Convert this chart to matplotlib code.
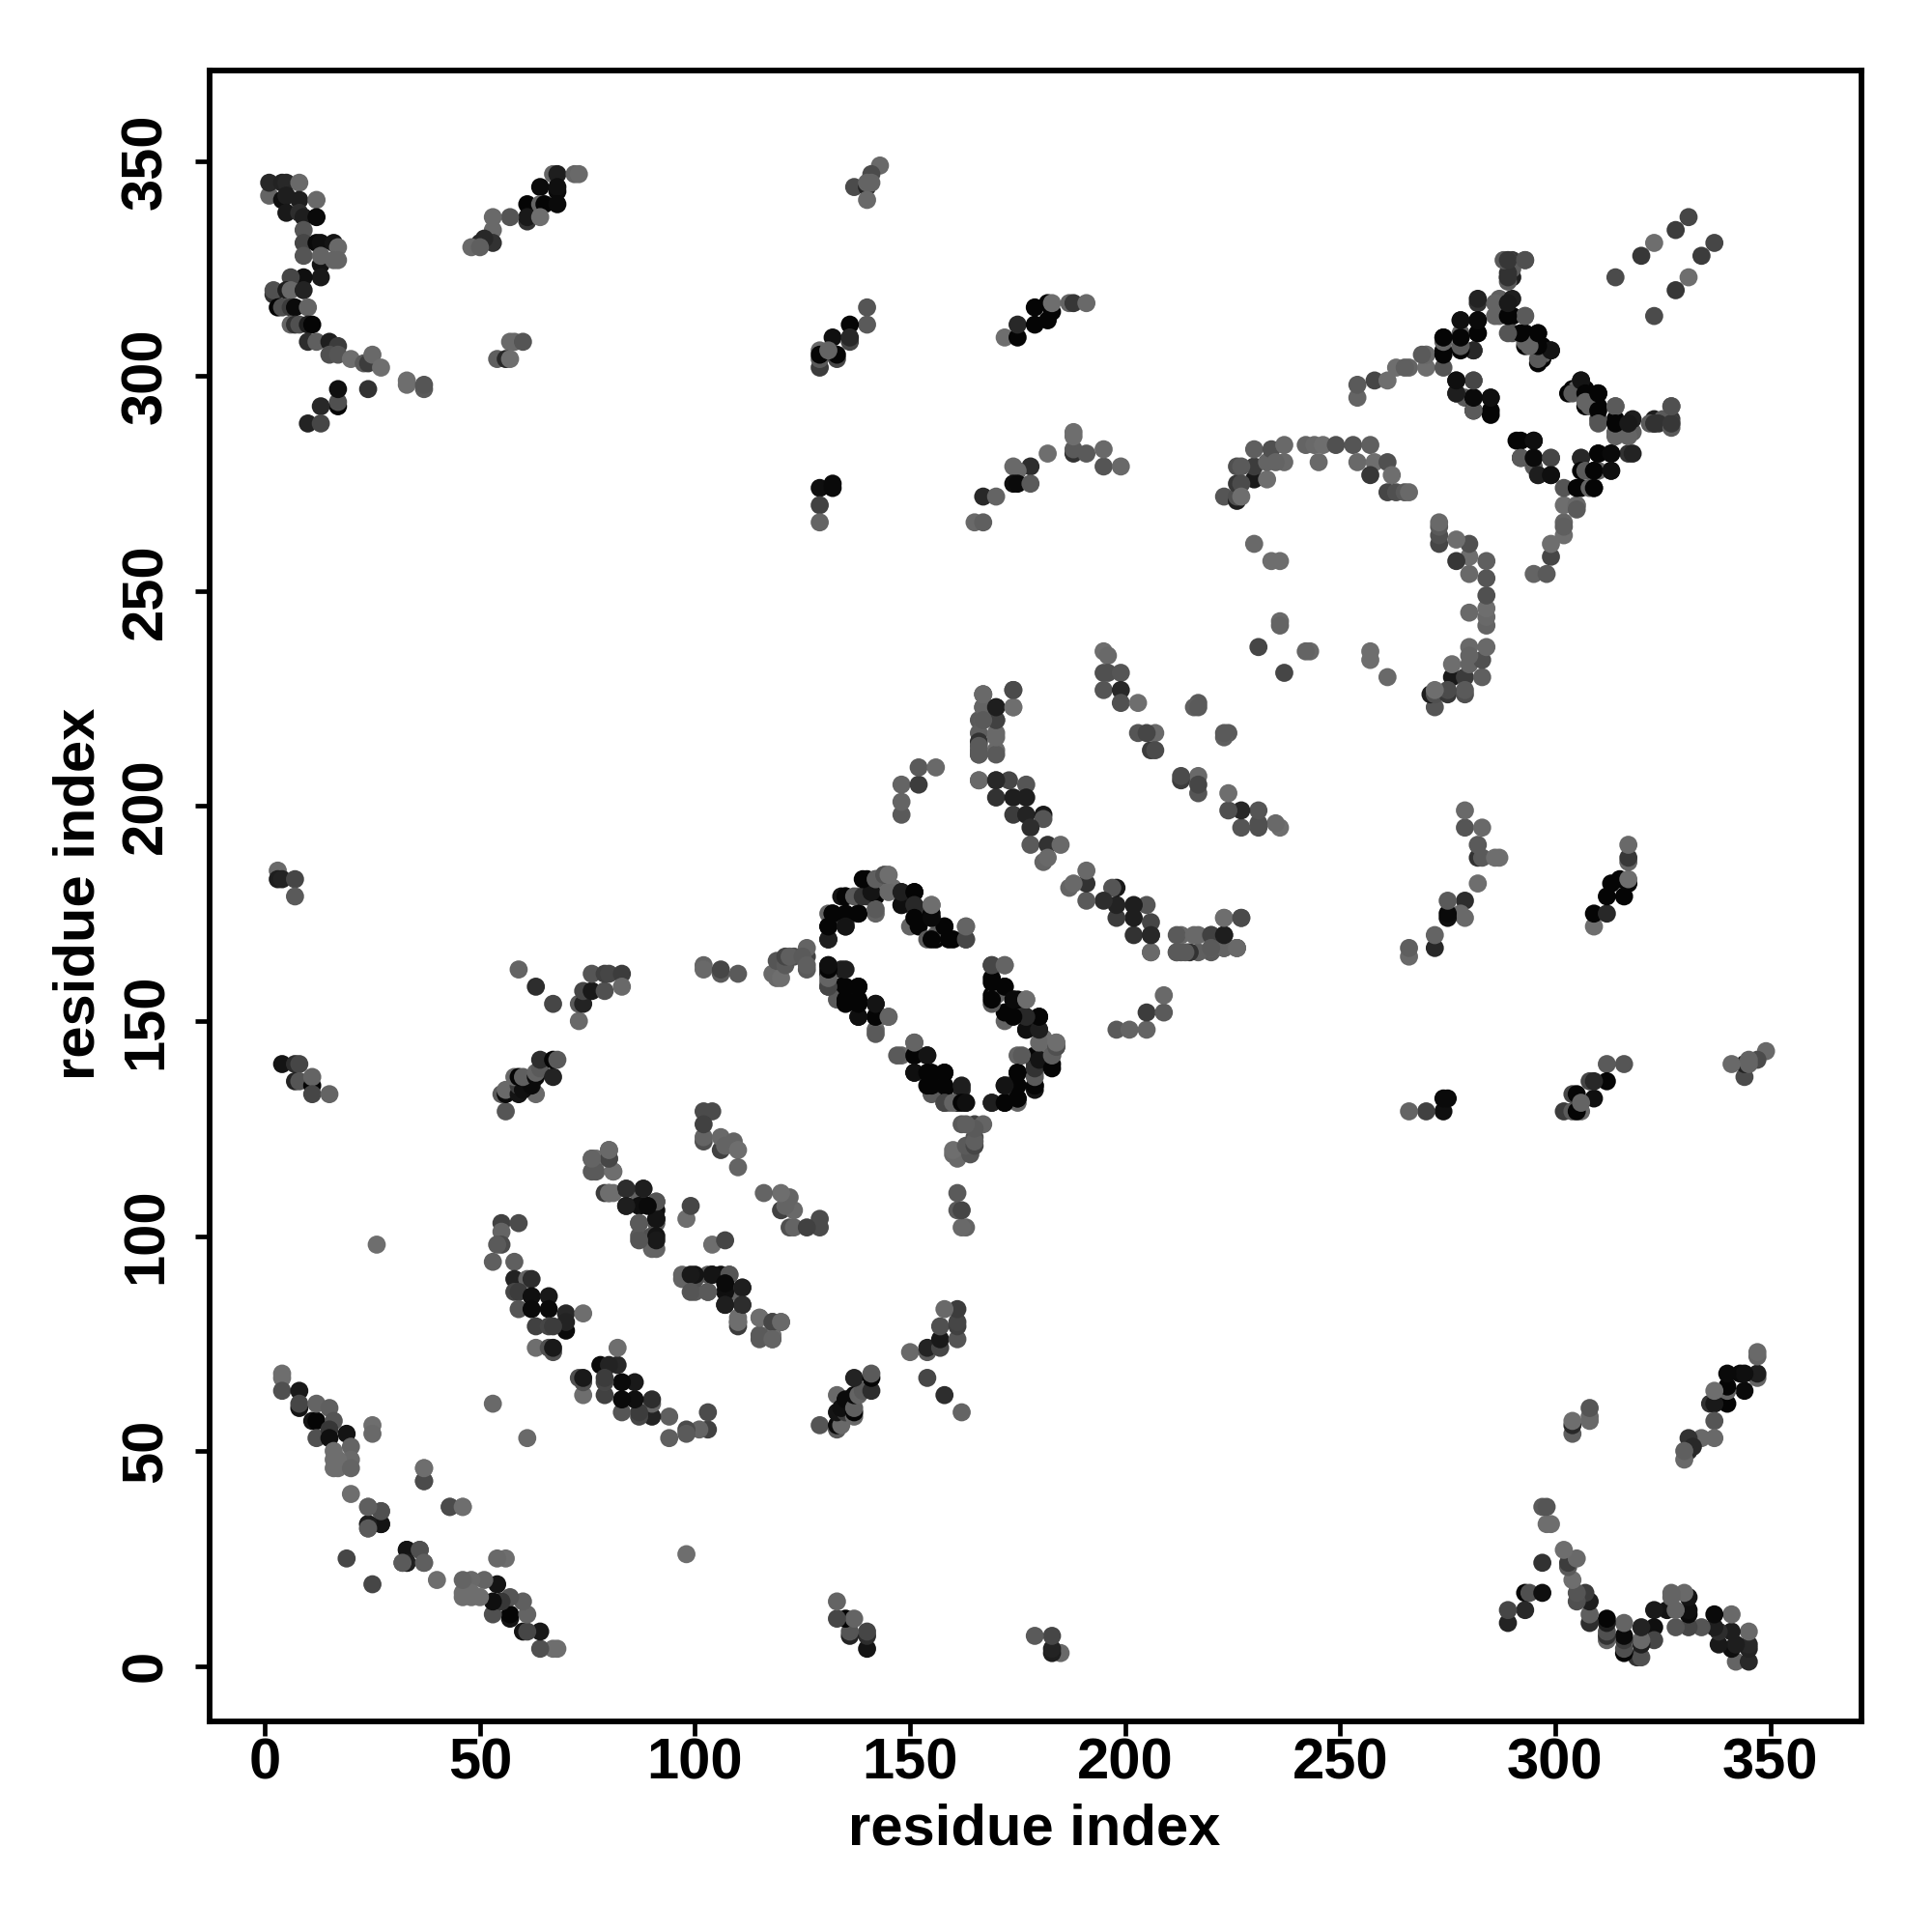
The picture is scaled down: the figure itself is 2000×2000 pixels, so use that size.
import matplotlib
matplotlib.use("Agg")
import matplotlib.pyplot as plt

# (residue i, residue j, grey level 0-255); the map is symmetric, i < j listed
low_hairpin = [(4,68,110),(4,67,110),(4,64,80),(8,64,25),(8,60,20),(8,61,70),(11,57,20),(12,57,5),(12,61,100),
               (15,60,95),(12,53,80),(16,57,85),(15,55,55),(15,53,15),(19,54,20),(16,50,110),(20,51,100),
               (20,48,105),(16,48,110),(17,48,110),(16,46,110),(17,46,110),(20,46,100)]
low_scatter = [(25,56,110),(25,54,105),(20,40,110),(37,46,105),(37,43,70),(24,37,90),(27,36,85),(24,32,80),(24,33,30),
               (27,33,25),(19,25,70),(33,27,20),(27,36,80),(24,33,30),(24,32,90),(24,37,95),(26,98,110),(53,61,105),
               (43,37,75),(37,46,110)]
sheet_b = [(55,103,65),(59,103,75),(55,101,100),(55,98,75),(54,98,90),(53,94,95),(58,94,95),(58,90,35),(61,90,100),(62,90,45),
           (58,87,70),(59,87,60),(62,86,15),(66,86,25),(59,83,85),(62,83,10),(66,83,10),(70,82,40),(74,82,110),
           (70,78,10),(70,80,35),(63,79,65),(66,79,70),(67,79,60),(63,74,110),(67,73,80),(66,74,80),(67,74,25)]
sheet_c = [(80,118,70),(76,118,100),(77,118,110),(77,115,90),(81,115,110),(80,120,105),(80,110,60),(81,110,110),(84,111,60),
           (88,111,40),(87,109,100),(84,107,40),(87,107,15),(91,106,15),(91,108,80),(91,103,90),(91,104,25),(87,103,85),
           (87,100,90),(90,100,80),(90,98,100),(91,97,100),(91,100,20)]
pair_d = [(98,104,110),(99,107,70)]
sheet_e = [(102,129,75),(104,129,75),(102,122,80),(102,123,100),(102,126,65),(106,120,65),(106,123,105),(107,121,100),(109,122,100),
           (109,121,100),(110,120,110),(110,116,100)]
sheet_f = [(90,97,100),(91,99,25),(87,99,85),(87,103,90),(91,104,20),(91,108,85),(89,107,10),(88,111,30),(84,111,45),(84,107,30),
           (79,110,60),(80,110,110),(81,115,110),(76,115,90),(80,118,70),(80,120,105),(76,118,100)]
group_g = [(56,129,85),(55,133,90),(56,133,10),(56,134,105),(59,133,20),(63,133,105),(59,135,60),(60,134,15),(62,135,10),
           (58,137,105),(59,137,5),(60,137,95),(63,137,10),(63,138,100),(64,139,90),(67,137,35),(64,141,45),(67,141,5),(68,141,90)]
group_h = [(59,162,100),(63,158,45),(67,154,70),(73,150,105),(73,154,90),(74,154,35),(74,157,70),(76,157,25),(76,161,85),
           (79,157,80),(79,161,65),(80,161,70),(83,161,60),(83,158,105)]
turn_j = [(102,163,100),(102,162,105),(106,161,90),(106,162,70),(110,161,90),(118,161,105),(119,160,105),(120,160,110),(119,164,85),
          (121,163,90),(121,165,70),(123,165,80),(126,162,90),(126,165,65),(126,167,100),(122,165,95),(125,165,90),(126,163,95)]
box_lower = [(131,163,20),(134,162,35),(131,161,15),(131,158,65),(131,159,100),(134,158,5),(138,158,5),(133,155,90),(135,155,5),(138,155,5),
             (138,151,5),(142,154,20),(142,148,100),(142,151,15),(143,151,110),(145,151,110)]
box_upper = [(131,169,40),(131,172,5),(131,175,100),(132,175,5),(135,172,25),(135,173,50),(135,175,5),(134,179,20),(135,179,5),(138,179,100),
             (138,175,5),(142,175,100),(140,183,5),(140,179,50),(142,179,5),(142,183,30),(144,184,100),(144,181,110),(145,184,110),(146,181,110)]
box_right = [(148,180,40),(151,180,5),(148,177,25),(152,176,50),(150,172,100),(152,172,5),(155,174,5),(155,177,110),(158,172,5),
             (154,169,90),(156,169,5),(156,170,95),(160,169,5),(163,172,100),(163,169,60)]
box_bottom = [(142,147,90),(142,151,5),(142,154,20),(145,151,100),(138,151,15),(138,154,5),(138,158,5),(135,154,5),(135,158,5),(135,162,30),
              (131,158,70),(131,160,100),(131,162,5),(131,163,15)]
box_side = [(131,169,30),(131,172,5),(135,172,20),(132,175,5),(138,175,5),(135,179,5),(137,179,90),(139,179,50),(142,176,90),(141,180,20),
            (139,183,5),(142,183,95),(145,180,105),(144,184,80),(145,184,110),(148,177,15),(148,180,30),(151,180,5),(151,177,40),(151,174,5),(158,172,5),
            (155,169,5),(159,169,5),(163,169,70),(163,172,100),(155,175,5),(155,174,10),(155,177,110)]
group_k = [(148,198,90),(148,201,100),(148,205,100),(152,205,60),(152,209,90),(156,209,105)]
group_m = [(167,226,105),(174,227,70),(174,223,110),(167,223,55),(170,223,30),(170,220,60),(166,220,90),(167,220,100),(166,217,95),
           (170,217,105),(166,215,50),(166,213,90),(166,212,80),(170,213,105),(166,206,105)]
sheet_n = [(170,206,50),(173,206,70),(177,205,85),(170,202,50),(174,202,30),(177,202,30),(174,198,60),(177,198,35),(181,198,25),(181,197,85),
           (178,195,45),(178,191,90),(182,191,50),(185,191,105),(181,187,100),(182,188,105)]
sheet_p = [(166,206,105),(167,223,100),(167,226,105),(170,206,40),(170,212,90),(166,212,90),(170,216,105),(170,220,65),(170,223,30),(174,223,110),(174,227,75),
           (167,226,105),(166,214,90),(167,220,90)]
group_q = [(195,236,110),(196,235,105),(196,231,80),(195,231,80),(199,231,85),(195,227,85),(199,227,40),(199,224,80),(203,224,110),
           (203,217,85),(207,217,105),(205,217,70),(206,213,60),(207,213,75),(217,224,90),(216,223,95),(217,223,90)]
group_r = [(231,237,70),(236,243,105),(236,242,100),(230,261,105),(234,257,110),(236,257,110)]
arc_top = [(223,272,85),(226,271,30),(226,272,80),(226,275,55),(226,279,80),(230,276,25),(230,279,60),(227,279,90),(227,275,75),(233,276,110),(227,272,110),
           (230,283,95),(233,280,100),(234,283,80),(237,284,105),(237,280,105),(235,280,100),(242,284,100),(244,284,105),(245,280,105),
           (246,284,110),(249,284,80),(253,284,85),(257,284,95),(254,280,105),(258,280,110),(257,277,55),(261,280,80),(262,277,110),
           (261,273,70),(263,273,80),(265,273,90),(266,273,105),(254,295,100),(254,298,90),(258,299,70),(261,299,110),(263,302,110),(266,302,100),(270,302,110),(270,305,105)]
box2_left = [(290,327,55),(289,327,100),(293,327,80),(289,323,20),(290,323,30),(290,325,90),(282,317,50),(278,313,35),(282,313,5),(282,310,10),(274,309,5),(278,309,5),
             (278,310,100),(274,306,5),(281,306,50),(274,302,85),(270,305,105),(269,305,90),(265,302,95)]
box2_mid = [(277,299,25),(281,299,70),(277,296,50),(279,295,90),(281,295,5),(285,295,10),(281,292,5),(285,292,5)]
box2_upper = [(287,318,95),(290,318,30),(287,314,100),(290,314,5),(293,314,90),(290,310,80),(293,310,5),(296,310,5),(293,307,5),(293,308,100),(297,307,5),
              (299,306,25),(297,304,5),(297,305,100)]
box2_right = [(303,296,5),(304,296,90),(306,299,20),(307,296,5),(307,294,100),(310,296,5),(310,292,5),(314,293,90),(310,289,85),(314,286,100),(317,286,100),(314,289,5),(317,289,25),
              (322,289,90),(323,289,50),(324,289,50),(327,288,90),(327,289,55),(327,293,80)]
box2_extra = [(281,306,40),(282,310,5),(282,313,10),(282,318,35),(278,306,5),(278,307,90),(278,309,5),(278,313,15),(274,305,5),(274,308,100),(274,309,5),
              (285,291,5),(285,295,15),(281,292,90),(281,295,10),(281,299,70),(277,296,30),(277,299,15)]
strand_s = [(331,337,70),(328,334,60),(323,331,110),(320,328,55),(314,323,75)]
top_u = [(143,349,105),(141,347,75),(137,344,75),(140,344,35),(140,345,100),(141,345,100),(140,341,105)]
top_v = [(140,316,85),(140,312,90),(136,312,5),(132,309,15),(136,308,70),(136,309,40),(129,306,105),(129,302,60),(129,304,90),(129,305,5),(133,304,70),(133,305,5),(131,306,100)]
top_w = [(172,309,110),(175,309,5),(175,312,40),(179,316,5),(179,312,5),(182,313,5),(182,317,5),(183,315,5),(183,317,110),(187,317,100),(188,317,55),(191,317,105)]
top_x = [(129,274,15),(132,275,10),(132,274,10),(129,270,65),(129,266,100)]
top_y = [(165,266,105),(167,266,95),(167,272,40),(170,272,100),(178,279,45),(174,279,105),(175,278,105),(174,275,15),(175,275,10),(178,275,90),(182,282,110),
         (188,282,50),(188,283,90),(188,286,110),(188,287,110),(191,282,90),(195,279,85),(195,283,105),(199,279,105)]
far_z1 = [(1,342,100),(1,345,40),(4,345,35),(5,345,40),(8,345,105),(4,341,15),(5,342,30),(8,341,30),(12,341,105),(5,338,25),(8,338,45),
          (9,337,30),(12,337,10),(9,334,85),(9,331,70),(9,328,85),(12,331,10),(13,331,15),(16,331,20),(17,330,105),(13,326,20),(13,328,100),(16,327,100),(17,327,100)]
far_z2 = [(13,323,25),(9,323,15),(6,323,70),(2,319,50),(2,320,80),(5,320,30),(6,320,105),(9,320,35),(3,316,5),(4,316,80),(6,316,60),(7,316,10),(10,316,100),
          (6,312,100),(7,312,50),(8,312,80),(10,312,30),(11,312,5),(10,308,45),(12,308,95),(15,308,30),(17,307,60),(15,305,80),(17,305,85),(20,304,110),
          (23,303,90),(24,303,60),(25,305,105),(27,302,110),(33,298,110),(33,299,110),(37,297,90),(37,298,85),(24,297,50),(17,293,5),(17,294,80),(17,297,15),(13,293,40),(10,289,35),(13,289,70)]
far_aa = [(67,347,100),(68,347,30),(72,347,100),(73,347,105),(64,344,10),(68,343,10),(68,344,15),(61,340,5),(64,340,100),(65,340,5),(68,340,10),(61,336,50),(61,337,25),(64,337,110),
          (57,337,85),(53,337,105),(53,334,105),(53,331,50),(51,332,40),(50,331,40),(48,330,105),(50,330,95)]
far_ab = [(57,308,105),(58,308,105),(60,308,85),(54,304,95),(56,304,40),(57,304,110)]
far_ac = [(3,185,105),(3,183,30),(4,183,35),(7,183,70),(7,179,90),(4,140,20),(7,140,45),(8,140,70),(7,136,35),(8,136,85),(11,135,5),(11,137,100),(11,133,70),(15,133,100)]

tick_values = [0, 50, 100, 150, 200, 250, 300, 350]
axis_title = "residue index"
all_groups = [low_hairpin, low_scatter, sheet_b, sheet_c, sheet_f, pair_d, sheet_e, group_g, group_h, turn_j,
              box_lower, box_upper, box_right, box_bottom, box_side, group_k, group_m, sheet_n, sheet_p, group_q, group_r, arc_top,
              box2_left, box2_mid, box2_upper, box2_right, box2_extra, strand_s, top_u, top_v, top_w, top_x, top_y,
              far_z1, far_z2, far_aa, far_ab, far_ac]

plt.rcParams['font.family'] = ['Liberation Sans', 'DejaVu Sans']
fig = plt.figure(figsize=(20, 20), dpi=100)
ax = fig.add_axes([217/2000, 1 - 1782/2000, 1710/2000, 1709/2000])

for group in all_groups:
    xs, ys, cs = [], [], []
    for a, b, g in group:
        xs += [a, b]
        ys += [b, a]
        cs += [(g/255, g/255, g/255)] * 2
    ax.scatter(xs, ys, s=182, c=cs, linewidths=0, zorder=3)

ax.set_xlim(-12.85, 371.2)
ax.set_ylim(-12.9, 371.1)
ax.set_xticks(tick_values)
ax.set_yticks(tick_values)
ax.set_xticklabels([str(v) for v in tick_values], fontsize=43, fontweight='bold')
ax.set_yticklabels([str(v) for v in tick_values], fontsize=43, fontweight='bold', rotation=90, va='center')
ax.tick_params(axis='y', length=11, width=3.4, pad=16, direction='out')
ax.tick_params(axis='x', length=11, width=3.4, pad=1, direction='out')
for s in ax.spines.values():
    s.set_linewidth(4.2)
fig.text(1071/2000, 1 - 1894/2000, axis_title, fontsize=43, fontweight='bold', ha='center', va='center')
fig.text(82/2000, 1 - 925/2000, axis_title, fontsize=43, fontweight='bold', ha='center', va='center', rotation=90)
fig.savefig('out.png', dpi=100, facecolor='white')
